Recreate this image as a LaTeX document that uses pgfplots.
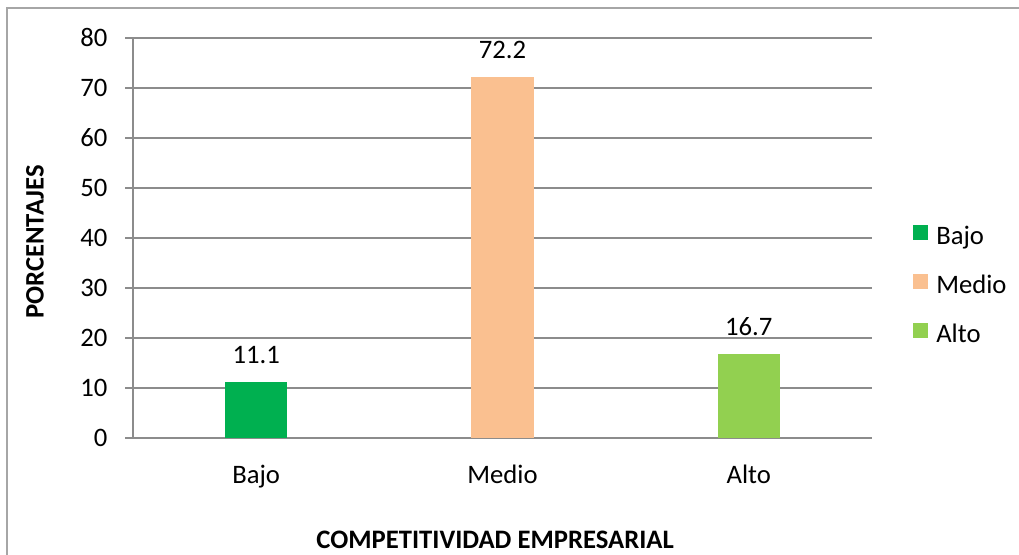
\documentclass[border=0pt]{standalone}
\usepackage{fontspec}
\setmainfont{Carlito}
\usepackage{pgfplots}
\pgfplotsset{compat=1.18}
\definecolor{cBajo}{HTML}{00B050}
\definecolor{cMedio}{HTML}{FAC090}
\definecolor{cAlto}{HTML}{92D050}
\definecolor{gridc}{HTML}{8C8C8C}
\definecolor{framec}{HTML}{A6A6A6}
\newcommand{\fs}{\fontsize{20pt}{24pt}\selectfont}
\begin{document}
\begin{tikzpicture}
\path[use as bounding box] (0,0) rectangle (764.25pt,416.25pt);
\draw[framec, line width=1.1pt] (5.25pt,-2pt) -- (5.25pt,410.25pt) -- (770pt,410.25pt);
\begin{axis}[
  at={(99.75pt,87.75pt)}, anchor=south west,
  width=554.25pt, height=300pt, scale only axis,
  xmin=-0.5, xmax=2.5, ymin=0, ymax=80,
  ytick={0,10,...,80},
  xtick={0,1,2}, xticklabels={Bajo,Medio,Alto},
  axis x line*=bottom, axis y line*=left,
  axis line style={gridc, line width=1.1pt, -},
  ymajorgrids, grid style={gridc, line width=1.1pt},
  tick align=outside, major tick length=6pt,
  ytick style={gridc, line width=1.1pt},
  xtick style={draw=none},
  /pgf/number format/assume math mode=true,
  tick label style={font=\fs, black},
  yticklabel style={anchor=east, inner sep=0pt, xshift=-13pt},
  xticklabel style={anchor=base, inner sep=0pt, yshift=-28.5pt},
  ylabel={\textbf{PORCENTAJES}},
  ylabel style={font=\fs, at={(axis description cs:-0.1326,0.49)}, anchor=center, rotate=0},
  xlabel={\textbf{COMPETITIVIDAD EMPRESARIAL}},
  xlabel style={font=\fs, at={(axis description cs:0.49,-0.255)}, anchor=center},
  ybar, bar width=0.252, bar shift=0pt,
  nodes near coords,
  every node near coord/.append style={font=\fs, black, anchor=base, yshift=14pt, inner sep=0pt},
  legend style={draw=none, fill=none, font=\fs,
    at={(axis description cs:1.0555,0.5325)}, anchor=north west,
    inner sep=0pt, row sep=17.75pt,
    nodes={inner sep=0pt, text height=13.5pt, text depth=4pt},
    /tikz/every odd column/.style={column sep=6pt}},
  legend cell align=left,
  legend image code/.code={\fill[#1] (0pt,-1.2pt) rectangle (11.25pt,10.05pt);},
]
\addplot[fill=cBajo, draw=none] coordinates {(0,11.1)};
\addlegendentry{Bajo}
\addplot[fill=cMedio, draw=none] coordinates {(1,72.2)};
\addlegendentry{Medio}
\addplot[fill=cAlto, draw=none] coordinates {(2,16.7)};
\addlegendentry{Alto}
\end{axis}
\end{tikzpicture}
\end{document}
